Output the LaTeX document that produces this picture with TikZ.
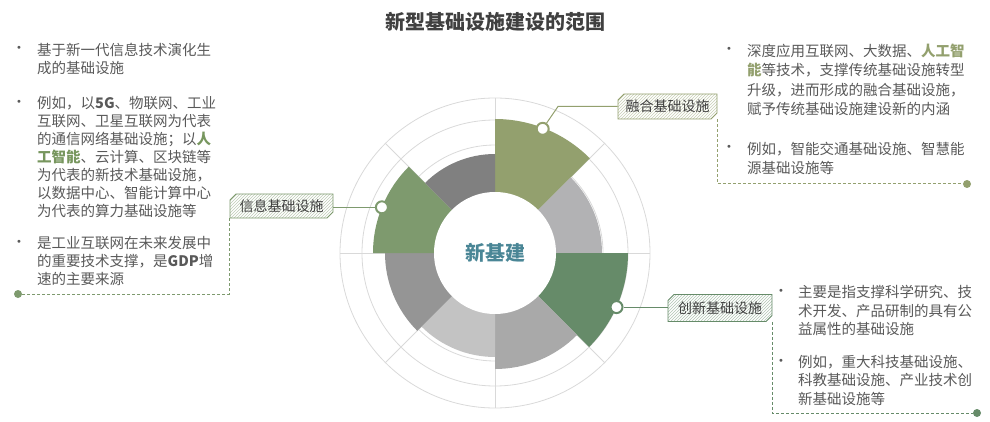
\documentclass[tikz,border=0pt]{standalone}
\usepackage{fontspec}
\setmainfont{Noto Sans CJK SC}
\newfontfamily\dotfont{DejaVu Sans}
\usetikzlibrary{patterns,shapes.misc}

\definecolor{olivec}{HTML}{93A06E}
\definecolor{leafc}{HTML}{7E9A6E}
\definecolor{pinec}{HTML}{668B69}
\definecolor{mistc}{HTML}{B2B2B4}
\definecolor{ashc}{HTML}{A9A9A9}
\definecolor{fogc}{HTML}{C3C3C3}
\definecolor{slatec}{HTML}{959595}
\definecolor{smokec}{HTML}{808080}
\definecolor{gridc}{HTML}{D9D9D9}
\definecolor{inkc}{HTML}{595959}
\definecolor{hubc}{HTML}{4A8696}
\definecolor{hilc}{HTML}{77965E}

\begin{document}
\begin{tikzpicture}[x=1pt,y=-1pt,
    tag/.style={shape=chamfered rectangle,
      chamfered rectangle corners={north west,south east},
      chamfered rectangle xsep=3pt, chamfered rectangle ysep=3pt,
      draw=#1, line width=0.8pt, preaction={fill=white},
      pattern=north east lines, pattern color=#1!50,
      inner sep=0pt, text=darkgray, font=\fontsize{14}{14}\selectfont},
    marker/.style={circle, fill=white, draw=#1, line width=2pt,
      minimum size=12pt, inner sep=0pt},
    knot/.style={circle, fill=#1, minimum size=8pt, inner sep=0pt},
    link/.style={draw=#1, line width=1pt},
    trail/.style={draw=#1, line width=1pt, dash pattern=on 3pt off 2pt},
    body/.style={anchor=north west, align=left, inner sep=0pt, text=inkc},
    pip/.style={inner sep=0pt, text=inkc, font=\dotfont\fontsize{10}{10}\selectfont},
    gridline/.style={draw=gridc, line width=0.8pt}]
  \useasboundingbox (0,0) rectangle (990,422);

  \node[text=darkgray, font=\fontsize{20}{20}\selectfont\bfseries] (title) at (495,22) {新型基础设施建设的范围};

  % the wheel
  \begin{scope}[shift={(495,253)}]
    \draw[gridline] (0,0) circle[radius=108pt];
    \draw[gridline] (0,0) circle[radius=133pt];
    \draw[gridline] (0,0) circle[radius=155pt];
    \draw[gridline] (0:155pt) -- (180:155pt);
    \draw[gridline] (45:155pt) -- (225:155pt);
    \draw[gridline] (90:155pt) -- (270:155pt);
    \draw[gridline] (135:155pt) -- (315:155pt);

    \fill[olivec] (0,0) -- (90:134pt) arc[start angle=90, end angle=45, radius=134pt] -- cycle;
    \fill[mistc] (0,0) -- (45:107pt) arc[start angle=45, end angle=0, radius=107pt] -- cycle;
    \fill[pinec] (0,0) -- (0:133pt) arc[start angle=0, end angle=-45, radius=133pt] -- cycle;
    \fill[ashc] (0,0) -- (-45:116pt) arc[start angle=-45, end angle=-90, radius=116pt] -- cycle;
    \fill[fogc] (0,0) -- (-90:104pt) arc[start angle=-90, end angle=-135, radius=104pt] -- cycle;
    \fill[slatec] (0,0) -- (-135:110pt) arc[start angle=-135, end angle=-180, radius=110pt] -- cycle;
    \fill[leafc] (0,0) -- (180:122pt) arc[start angle=180, end angle=135, radius=122pt] -- cycle;
    \fill[smokec] (0,0) -- (135:99pt) arc[start angle=135, end angle=90, radius=99pt] -- cycle;

    \node[circle, fill=white, minimum size=122pt, text=hubc,
      font=\fontsize{20}{20}\selectfont\bfseries] (core) at (0,0) {新基建};

    \node[marker=olivec] (m1) at (69:133pt) {};
    \node[marker=leafc] (m7) at (158:122pt) {};
    \node[marker=pinec] (m3) at (-24:133pt) {};
  \end{scope}

  % labels
  \node[tag=olivec, minimum width=99pt, minimum height=25pt] (rh) at (667.5,106.5) {融合基础设施};
  \node[tag=leafc, minimum width=103pt, minimum height=24pt] (xx) at (281.5,206) {信息基础设施};
  \node[tag=pinec, minimum width=104pt, minimum height=27pt] (cx) at (720,308) {创新基础设施};

  \coordinate (k1) at (558,106.5);
  \draw[link=olivec] (m1) -- (k1) -- (rh.west);
  \draw[link=leafc] (m7) -- (m7 -| xx.east);
  \draw[link=pinec] (m3) -- (m3 -| cx.west);

  \node[knot=olivec] (d1) at (967,184) {};
  \node[knot=leafc] (d2) at (18,294) {};
  \node[knot=pinec] (d3) at (977,413) {};
  \draw[trail=olivec] (rh.south -| rh.east) -- (rh.east |- d1) -- (d1);
  \draw[trail=leafc] (xx.south -| xx.west) -- (xx.west |- d2) -- (d2);
  \draw[trail=pinec] (cx.south -| cx.east) -- (cx.east |- d3) -- (d3);

  % left notes
  \begin{scope}[font=\fontsize{14.5}{18}\selectfont]
    \node[pip] (p1) at (19,49) {•};
    \node[body] (l1) at (37,42.5) {基于新一代信息技术演化生\\成的基础设施};
    \node[pip] (p2) at (19,103) {•};
    \node[body] (l2) at (37,96.5) {例如，以\textbf{5G}、物联网、工业\\互联网、卫星互联网为代表\\的通信网络基础设施；以{\color{hilc}\bfseries 人}\\{\color{hilc}\bfseries 工智能}、云计算、区块链等\\为代表的新技术基础设施，\\以数据中心、智能计算中心\\为代表的算力基础设施等};
    \node[pip] (p3) at (19,243) {•};
    \node[body] (l3) at (37,236.5) {是工业互联网在未来发展中\\的重要技术支撑，是\textbf{GDP}增\\速的主要来源};
  \end{scope}

  % upper right notes
  \begin{scope}[font=\fontsize{14.5}{19.5}\selectfont]
    \node[pip] (q1) at (729,50) {•};
    \node[body] (r1) at (747,43.5) {深度应用互联网、大数据、{\color{olivec}\bfseries 人工智}\\{\color{olivec}\bfseries 能}等技术，支撑传统基础设施转型\\升级，进而形成的融合基础设施，\\赋予传统基础设施建设新的内涵};
    \node[pip] (q2) at (729,148) {•};
    \node[body] (r2) at (747,141.5) {例如，智能交通基础设施、智慧能\\源基础设施等};
  \end{scope}

  % lower right notes
  \begin{scope}[font=\fontsize{14.5}{18.5}\selectfont]
    \node[pip] (t1) at (781,291.5) {•};
    \node[body] (s1) at (798,285) {主要是指支撑科学研究、技\\术开发、产品研制的具有公\\益属性的基础设施};
    \node[pip] (t2) at (781,361.5) {•};
    \node[body] (s2) at (798,355) {例如，重大科技基础设施、\\科教基础设施、产业技术创\\新基础设施等};
  \end{scope}
\end{tikzpicture}
\end{document}
